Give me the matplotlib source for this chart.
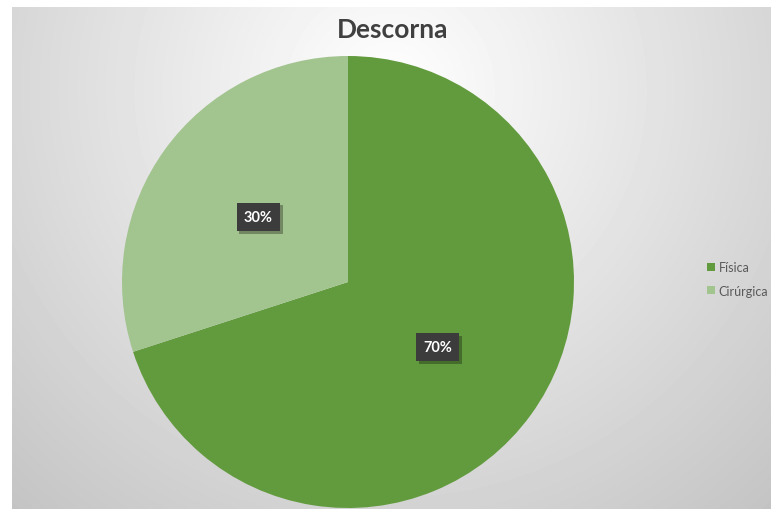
import numpy as np
import matplotlib
matplotlib.use("Agg")
from matplotlib import pyplot as plt
from matplotlib import patheffects as pe

# data
labels = ["Física", "Cirúrgica"]
values = [70, 30]
colors = ["#629b3d", "#a2c48f"]
title = "Descorna"

W, H = 771, 510
fig = plt.figure(figsize=(W / 100, H / 100), dpi=100)
fig.patch.set_facecolor("white")

# background with a soft radial gradient (chart area starts a bit in from the left/top)
bg = fig.add_axes([12 / W, 0, (W - 12) / W, (H - 8) / H])
yy, xx = np.mgrid[8:H, 12:W]
dist = np.sqrt((xx - 390.0) ** 2 + (yy - 90.0) ** 2)
shade = np.clip(255 - 0.105 * dist, 190, 255) / 255.0
bg.imshow(shade, cmap="gray", vmin=0, vmax=1, aspect="auto",
          extent=[0, 1, 0, 1], interpolation="bilinear")
bg.axis("off")

plt.rcParams["font.family"] = ["Lato", "DejaVu Sans"]

# pie, centre at (348, 283) px, radius ~226 px
r = 226
ax = fig.add_axes([(348 - r) / W, (H - 283 - r) / H, 2 * r / W, 2 * r / H])
wedges, texts, autotexts = ax.pie(
    values, colors=colors, startangle=90, counterclock=False,
    autopct="%d%%", pctdistance=0.49, radius=1,
    wedgeprops=dict(linewidth=0),
    textprops=dict(color="white", fontsize=10.5, fontweight="bold"))
for t in autotexts:
    t.set_bbox(dict(boxstyle="square,pad=0.5", fc="#3c3c3c", ec="none"))
    # little drop shadow behind the label box
    t.get_bbox_patch().set_path_effects(
        [pe.SimplePatchShadow(offset=(2, -2), shadow_rgbFace="black", alpha=0.3), pe.Normal()])
ax.set_xlim(-1, 1)
ax.set_ylim(-1, 1)
ax.set_aspect("equal")
ax.axis("off")

fig.text(393 / W, 1 - 30 / H, title, ha="center", va="center",
         fontsize=19, fontweight="bold", color="#404040")

fig.legend(wedges, labels, loc="center left",
           bbox_to_anchor=(696 / W, 1 - 280 / H), frameon=False,
           fontsize=9, handlelength=0.6, handleheight=0.6,
           handletextpad=0.3, labelspacing=0.9, labelcolor="#595959")

fig.savefig("out.png", dpi=100)
